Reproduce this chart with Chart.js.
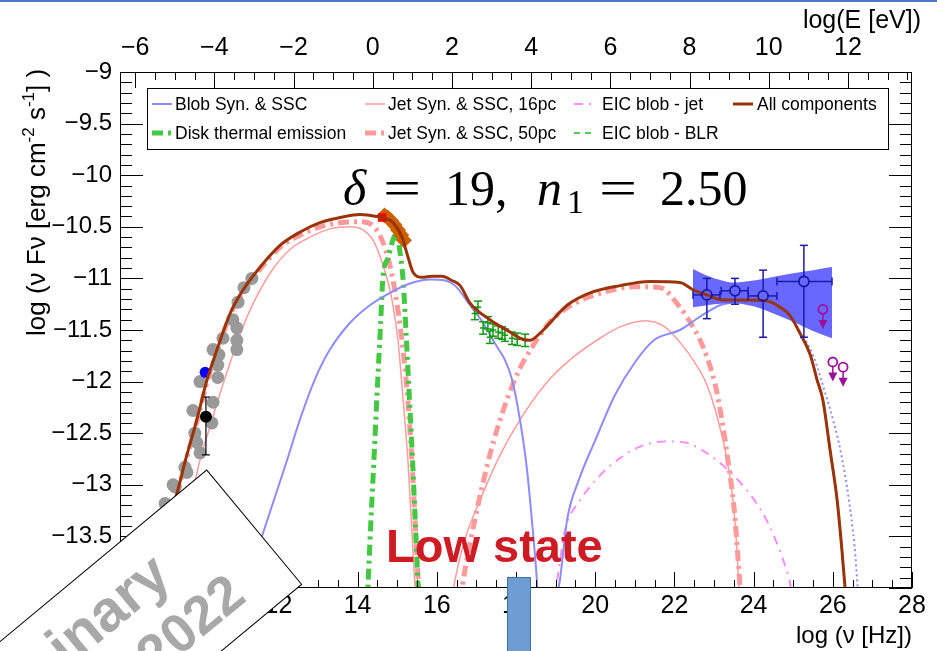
<!DOCTYPE html>
<html><head><meta charset="utf-8">
<script src="https://cdn.jsdelivr.net/npm/chart.js@4.4.1/dist/chart.umd.min.js"></script>
<style>html,body{margin:0;padding:0;background:#fff;overflow:hidden}canvas{display:block}</style>
</head><body>
<canvas id="sed" width="937" height="651"></canvas>
<script>
// ---------- axes / tick labels ----------
const nuRange = [8, 28];
const fluxRange = [-14, -9];
const nuTicks = [8, 10, 12, 14, 16, 18, 20, 22, 24, 26, 28];
const eVTicks = [-6, -4, -2, 0, 2, 4, 6, 8, 10, 12];
const fluxTicks = [-14, -13.5, -13, -12.5, -12, -11.5, -11, -10.5, -10, -9.5, -9];
const LOG_HZ_PER_EV = 14.383;

// ---------- model curves (log nu, log nuFnu) ; null = gap ----------
const allNu = [9.31, 9.44, 9.64, 9.94, 10.20, 10.45, 10.78, 11.11, 11.54, 12.04, 12.55, 13.05, 13.56, 14.06, 14.49, 14.69, 14.87, 15.12, 15.27, 15.40, 15.63, 15.88, 16.13, 16.38, 16.59, 16.84, 17.34, 17.85, 18.10, 18.35, 18.61, 18.86, 19.29, 19.87, 20.63, 21.38, 22.14, 22.47, 22.82, 23.23, 23.83, 24.34, 24.67, 24.92, 25.17, 25.43, 25.60, 25.75, 25.93, 26.11, 26.23, 26.31, 26.34];
const allF  = [-13.22, -13.08, -12.78, -12.37, -11.98, -11.69, -11.34, -11.11, -10.89, -10.68, -10.55, -10.46, -10.41, -10.38, -10.40, -10.42, -10.45, -10.60, -10.79, -10.94, -10.99, -10.98, -10.98, -11.02, -11.07, -11.24, -11.40, -11.52, -11.58, -11.60, -11.53, -11.43, -11.26, -11.14, -11.07, -11.03, -11.04, -11.11, -11.16, -11.21, -11.21, -11.22, -11.28, -11.36, -11.53, -11.74, -11.98, -12.18, -12.66, -13.15, -13.63, -14.00, -14.15];

const blobNu = [11.17, 11.61, 12.22, 12.55, 12.92, 13.30, 13.81, 14.31, 14.82, 15.32, 15.83, 16.21, 16.46, 16.84, 17.17, 17.42, 17.60, 17.72, 17.90, 18.10, 18.28, 18.40, 18.51, 18.56, 18.8, 19.01, 19.11, 19.29, 19.59, 20.00, 20.50, 21.01, 21.48, 22.14, 22.65, 23.15, 23.48, 23.83, 24.34, 24.67, 24.92, 25.17, 25.43, 25.60, 25.75, 25.93, 26.11, 26.23, 26.31, 26.34];
const blobF  = [-14.00, -13.47, -12.76, -12.36, -11.98, -11.69, -11.43, -11.26, -11.14, -11.05, -11.01, -11.02, -11.07, -11.26, -11.43, -11.60, -11.71, -11.79, -11.98, -12.37, -12.86, -13.34, -13.83, -14.12, null, -14.12, -13.92, -13.34, -12.95, -12.57, -12.13, -11.81, -11.60, -11.50, -11.37, -11.26, -11.23, -11.21, -11.22, -11.28, -11.36, -11.53, -11.74, -11.98, -12.18, -12.66, -13.15, -13.63, -14.00, -14.15];

const blobNoAbsNu = [25.17, 25.43, 25.60, 25.80, 26.00, 26.20, 26.40, 26.55, 26.63, 26.66];
const blobNoAbsF  = [-11.53, -11.68, -11.85, -12.10, -12.36, -12.68, -13.13, -13.60, -14.00, -14.15];

const jet16Nu = [9.46, 9.59, 9.84, 10.02, 10.27, 10.53, 10.95, 11.28, 11.79, 12.29, 12.80, 13.30, 13.81, 14.14, 14.39, 14.57, 14.72, 14.87, 15.02, 15.15, 15.27, 15.37, 15.45, 15.48, 16.0, 16.38, 16.46, 16.71, 17.09, 17.60, 18.10, 18.73, 19.36, 20.12, 20.63, 21.26, 21.76, 22.14, 22.47, 22.82, 23.10, 23.33, 23.48, 23.58, 23.63, 23.65];
const jet16F  = [-13.53, -13.34, -13.05, -12.76, -12.44, -12.11, -11.63, -11.31, -10.95, -10.72, -10.60, -10.52, -10.50, -10.53, -10.63, -10.79, -10.97, -11.21, -11.60, -12.18, -12.76, -13.44, -14.00, -14.15, null, -14.12, -13.92, -13.53, -13.15, -12.71, -12.37, -12.03, -11.79, -11.58, -11.47, -11.41, -11.47, -11.62, -11.79, -12.03, -12.37, -12.76, -13.15, -13.63, -14.00, -14.15];

const jet50Nu = [9.44, 9.64, 9.94, 10.20, 10.45, 10.78, 11.11, 11.54, 12.04, 12.55, 13.05, 13.56, 14.06, 14.39, 14.69, 14.87, 15.02, 15.15, 15.27, 15.37, 15.45, 15.53, 15.56, 16.0, 16.59, 16.71, 16.96, 17.34, 17.72, 18.10, 18.40, 18.86, 19.49, 20.25, 21.01, 21.64, 22.14, 22.47, 22.65, 22.82, 23.03, 23.20, 23.35, 23.51, 23.61, 23.66, 23.68];
const jet50F  = [-13.10, -12.80, -12.39, -12.00, -11.71, -11.36, -11.13, -10.91, -10.70, -10.58, -10.50, -10.46, -10.45, -10.49, -10.70, -10.97, -11.31, -11.70, -12.18, -12.76, -13.34, -13.92, -14.15, null, -14.12, -13.83, -13.34, -12.71, -12.23, -11.87, -11.67, -11.42, -11.24, -11.13, -11.08, -11.09, -11.28, -11.47, -11.60, -11.76, -12.03, -12.37, -12.76, -13.24, -13.73, -14.00, -14.15];

const diskNu = [14.24, 14.26, 14.33, 14.42, 14.50, 14.58, 14.64, 14.77, 14.89, 14.97, 15.02, 15.07, 15.12, 15.15, 15.22, 15.30, 15.38, 15.45, 15.52, 15.55];
const diskF  = [-14.15, -14.00, -13.40, -12.70, -12.05, -11.45, -10.99, -10.80, -10.63, -10.57, -10.62, -10.74, -10.89, -11.02, -11.50, -12.10, -12.70, -13.30, -13.92, -14.15];

const eicJetNu = [18.95, 19.06, 19.24, 19.62, 20.12, 20.63, 21.13, 21.76, 22.27, 22.77, 23.28, 23.78, 24.21, 24.54, 24.79, 24.94, 24.98];
const eicJetF  = [-14.15, -13.87, -13.44, -13.15, -12.91, -12.74, -12.63, -12.58, -12.59, -12.68, -12.83, -13.03, -13.26, -13.52, -13.78, -14.00, -14.15];

const eicBlrNu = [];
const eicBlrF  = [];

// ---------- observations ----------
const archNu = [11.33, 11.13, 10.98, 10.85, 10.95, 10.95, 10.95, 10.60, 10.35, 10.50, 10.47, 10.47, 10.02, 10.35, 9.84, 10.32, 9.89, 9.94, 10.02, 9.64, 9.69, 9.39, 9.34, 9.14];
const archF  = [-11.00, -11.09, -11.23, -11.40, -11.48, -11.60, -11.69, -11.58, -11.69, -11.74, -11.84, -11.96, -12.00, -12.20, -12.28, -12.40, -12.50, -12.59, -12.69, -12.83, -12.88, -13.02, -13.00, -13.18];
const radioBlueNu = [10.15], radioBlueF = [-11.91];
const radioBlackNu = [10.17], radioBlackF = [-12.34], radioBlackLo = [-12.71], radioBlackHi = [-12.15];
const redNu = [14.62], redF = [-10.41];
const uvNu = [14.68, 14.76, 14.84, 14.93, 15.02, 15.10, 15.17];
const uvF  = [-10.39, -10.41, -10.44, -10.48, -10.53, -10.58, -10.63];
const xrtNu = [16.96, 17.04, 17.17, 17.29, 17.34, 17.42, 17.55, 17.65, 17.72, 17.90, 18.03, 18.23];
const xrtF  = [-11.34, -11.28, -11.48, -11.43, -11.57, -11.50, -11.52, -11.53, -11.55, -11.58, -11.59, -11.60];
const latNu = [22.82, 23.53, 24.24, 25.27], latF = [-11.16, -11.12, -11.17, -11.03];
const latNuLo = [22.47, 23.18, 23.86, 24.59], latNuHi = [23.15, 23.86, 24.59, 25.98];
const latFLo = [-11.39, -11.25, -11.57, -11.57], latFHi = [-11.00, -11.00, -10.92, -10.68];
const bowUpNu = [22.47, 22.80, 23.20, 23.50, 23.80, 24.30, 25.00, 25.50, 25.98];
const bowUpF  = [-10.91, -10.97, -11.02, -11.04, -11.03, -11.00, -10.95, -10.92, -10.89];
const bowLoNu = [22.47, 23.00, 23.50, 24.00, 24.50, 25.00, 25.50, 25.98];
const bowLoF  = [-11.28, -11.25, -11.24, -11.27, -11.34, -11.42, -11.51, -11.58];
const ulNu = [25.75, 26.00, 26.26], ulF = [-11.30, -11.81, -11.86];

// ---------- helpers ----------
const FONT = "'Liberation Sans', Arial, Helvetica, sans-serif";
const SERIF = "'Liberation Serif', 'Times New Roman', serif";
const xy = (xs, ys, extra) => xs.map((x, i) => Object.assign({x: x, y: ys[i]}, extra ? extra(i) : {}));
const fmtTick = v => (v < -1e-9 ? '\u2212' : '') + (Math.round(Math.abs(v) * 1000) / 1000);

function curve(label, xs, ys, color, width, dash, order, legendIdx) {
  return { type: 'line', label: label, data: xy(xs, ys), borderColor: color, backgroundColor: color,
    borderWidth: width, borderDash: dash || [], pointRadius: 0, pointHoverRadius: 0, tension: 0.3,
    cubicInterpolationMode: 'monotone', fill: false, spanGaps: false, order: order,
    inLegend: legendIdx !== undefined, legendIdx: legendIdx, borderCapStyle: 'butt', xAxisID: 'x', yAxisID: 'y' };
}
function pointsSet(xs, ys, opts, extra) {
  return Object.assign({ type: 'scatter', data: xy(xs, ys, extra), showLine: false, xAxisID: 'x', yAxisID: 'y' }, opts);
}

const datasets = [
  curve('Blob Syn. & SSC', blobNu, blobF, '#8c8cff', 2, [], 9, 0),
  curve('Disk thermal emission', diskNu, diskF, '#44c844', 5, [11, 5, 3, 5], 10, 1),
  curve('Jet Syn. & SSC, 16pc', jet16Nu, jet16F, '#ff9c9c', 1.5, [], 10, 2),
  curve('Jet Syn. & SSC, 50pc', jet50Nu, jet50F, '#ff9a9a', 5, [11, 5, 3, 5], 10, 3),
  curve('EIC blob - jet', eicJetNu, eicJetF, '#ff8cff', 2, [9, 6, 2, 6], 10, 4),
  curve('EIC blob - BLR', eicBlrNu, eicBlrF, '#55cc55', 2, [6, 5], 10, 5),
  curve('All components', allNu, allF, '#9a3408', 3, [], 1, 6),
  curve('Blob SSC (no EBL)', blobNoAbsNu, blobNoAbsF, '#8c8cff', 2, [2, 3], 9),
  Object.assign(curve('bowtie up', bowUpNu, bowUpF, 'rgba(0,0,0,0)', 0, [], 5), { fill: '+1', backgroundColor: 'rgba(88,88,255,0.9)', tension: 0.2 }),
  Object.assign(curve('bowtie low', bowLoNu, bowLoF, 'rgba(0,0,0,0)', 0, [], 5), { tension: 0.2 }),
  pointsSet(archNu, archF, { pointRadius: 6.5, pointBackgroundColor: '#999999', pointBorderWidth: 0, order: 4 }),
  pointsSet(radioBlueNu, radioBlueF, { pointRadius: 5.5, pointBackgroundColor: '#0000ff', pointBorderWidth: 0, order: 3 }),
  pointsSet(radioBlackNu, radioBlackF, { pointRadius: 6, pointBackgroundColor: '#000', pointBorderWidth: 0, borderColor: '#000', order: 3, errBars: true, capSize: 4, errWidth: 1.2 },
    i => ({ yMin: radioBlackLo[i], yMax: radioBlackHi[i] })),
  pointsSet(redNu, redF, { pointStyle: 'rect', pointRadius: 6, pointBackgroundColor: '#ff0000', pointBorderWidth: 0, order: 3 }),
  pointsSet(uvNu, uvF, { pointStyle: 'rectRot', pointRadius: 8, pointBackgroundColor: '#cc6000', pointBorderWidth: 0, order: 3 }),
  pointsSet(xrtNu, xrtF, { pointRadius: 0, borderColor: '#119911', order: 2, errBars: true, capSize: 4, errWidth: 1.5 },
    i => ({ yMin: xrtF[i] - 0.06, yMax: xrtF[i] + 0.06, xMin: xrtNu[i] - 0.08, xMax: xrtNu[i] + 0.08 })),
  pointsSet(latNu, latF, { pointRadius: 5, pointBackgroundColor: 'rgba(0,0,0,0)', pointBorderColor: '#1a1aa8', borderColor: '#1a1aa8', pointBorderWidth: 1.8, order: 0, errBars: true, capSize: 4, errWidth: 1.5 },
    i => ({ yMin: latFLo[i], yMax: latFHi[i], xMin: latNuLo[i], xMax: latNuHi[i] })),
  pointsSet(ulNu, ulF, { pointRadius: 4.5, pointBackgroundColor: 'rgba(0,0,0,0)', pointBorderColor: '#9b0f9b', borderColor: '#9b0f9b', pointBorderWidth: 1.8, order: 0, upperLimit: true, arrowLen: 0.19 })
];

function seg(ctx, x1, y1, x2, y2) { ctx.beginPath(); ctx.moveTo(x1, y1); ctx.lineTo(x2, y2); ctx.stroke(); }

const decor = {
  id: 'decor',
  afterDatasetDraw(chart, args) {
    const ds = chart.data.datasets[args.index];
    if (!ds.errBars && !ds.upperLimit) return;
    const ctx = chart.ctx, X = chart.scales.x, Y = chart.scales.y;
    ctx.save();
    ctx.strokeStyle = ds.borderColor; ctx.fillStyle = ds.borderColor; ctx.lineWidth = ds.errWidth || 1.5;
    const r = ds.pointRadius || 0;
    ds.data.forEach(p => {
      const px = X.getPixelForValue(p.x), py = Y.getPixelForValue(p.y);
      if (ds.errBars) {
        const cap = ds.capSize;
        if (p.yMin !== undefined) {
          const y1 = Y.getPixelForValue(p.yMin), y2 = Y.getPixelForValue(p.yMax);
          seg(ctx, px, y1, px, py + r); seg(ctx, px, py - r, px, y2);
          seg(ctx, px - cap, y1, px + cap, y1); seg(ctx, px - cap, y2, px + cap, y2);
        }
        if (p.xMin !== undefined) {
          const x1 = X.getPixelForValue(p.xMin), x2 = X.getPixelForValue(p.xMax);
          seg(ctx, x1, py, px - r, py); seg(ctx, px + r, py, x2, py);
          if (ds.pointRadius) { seg(ctx, x1, py - cap, x1, py + cap); seg(ctx, x2, py - cap, x2, py + cap); }
        }
      }
      if (ds.upperLimit) {
        const tip = Y.getPixelForValue(p.y - ds.arrowLen);
        seg(ctx, px, py + r, px, tip - 7);
        ctx.beginPath(); ctx.moveTo(px - 4.5, tip - 9); ctx.lineTo(px + 4.5, tip - 9); ctx.lineTo(px, tip); ctx.closePath(); ctx.fill();
      }
    });
    ctx.restore();
  },
  afterDraw(chart) {
    const ctx = chart.ctx, a = chart.chartArea, X = chart.scales.x, Y = chart.scales.y, XT = chart.scales.xTop;
    ctx.save();
    // ----- legend -----
    const items = chart.data.datasets.filter(d => d.inLegend).sort((p, q) => p.legendIdx - q.legendIdx);
    ctx.fillStyle = '#fff'; ctx.fillRect(147, 88, 741, 61);
    ctx.strokeStyle = '#000'; ctx.lineWidth = 1; ctx.strokeRect(147.5, 88.5, 741, 61);
    const colSample = [152, 365, 574, 733], colText = [175, 388, 602, 757], rowY = [104, 133];
    ctx.font = '17.5px ' + FONT; ctx.textBaseline = 'middle'; ctx.textAlign = 'left';
    items.forEach((d, i) => {
      const c = Math.floor(i / 2), r = i % 2, y = rowY[r];
      ctx.save(); ctx.strokeStyle = d.borderColor; ctx.lineWidth = d.borderWidth; ctx.setLineDash(d.borderDash);
      seg(ctx, colSample[c], y, colSample[c] + 20, y); ctx.restore();
      ctx.fillStyle = '#000'; ctx.fillText(d.label, colText[c], y + 1);
    });
    // ----- frame & ticks -----
    ctx.strokeStyle = '#000'; ctx.lineWidth = 1; ctx.setLineDash([]);
    ctx.strokeRect(a.left + 0.5, a.top + 0.5, a.right - a.left - 1, a.bottom - a.top - 1);
    for (let k = 0; k <= 40; k++) {
      const v = nuRange[0] + k * 0.5, px = Math.round(X.getPixelForValue(v)) + 0.5;
      seg(ctx, px, a.bottom, px, a.bottom - (k % 4 === 0 ? 16 : 8));
    }
    for (let k = -13; k <= 27; k++) {
      const v = k * 0.5, px = Math.round(XT.getPixelForValue(v)) + 0.5;
      if (px < a.left || px > a.right) continue;
      seg(ctx, px, a.top, px, a.top + (k % 4 === 0 ? 16 : 8));
    }
    for (let k = 0; k <= 50; k++) {
      const v = fluxRange[0] + k * 0.1, py = Math.round(Y.getPixelForValue(v)) + 0.5;
      const len = (k % 5 === 0) ? 23 : 12;
      seg(ctx, a.left, py, a.left + len, py);
      seg(ctx, a.right, py, a.right - len, py);
    }
    // ----- axis titles -----
    ctx.fillStyle = '#000'; ctx.font = '25px ' + FONT; ctx.textAlign = 'right'; ctx.textBaseline = 'alphabetic';
    ctx.fillText('log(E [eV])', 921, 28);
    ctx.font = '24px ' + FONT;
    ctx.fillText('log (\u03bd [Hz])', 912, 643);
    ctx.save();
    ctx.translate(45, 336); ctx.rotate(-Math.PI / 2); ctx.textAlign = 'left';
    const parts = [['log (\u03bd F\u03bd [erg cm', 0], ['-2', 1], [' s', 0], ['-1', 1], ['] )', 0]];
    let xx = 0;
    parts.forEach(([t, sup]) => {
      ctx.font = (sup ? '17px ' : '26px ') + FONT;
      ctx.fillText(t, xx, sup ? -11 : 0);
      xx += ctx.measureText(t).width;
    });
    ctx.restore();
    // ----- parameter label -----
    const pp = [['\u03b4', 1, 343, 0], ['=', 0, 383, 0], ['19,', 0, 445, 0], ['n', 1, 537, 0], ['1', 0, 567, 1], ['=', 0, 599, 0], ['2.50', 0, 660, 0]];
    ctx.textAlign = 'left';
    pp.forEach(([t, it, x, sub]) => {
      ctx.font = (it ? 'italic ' : '') + (sub ? '34px ' : '50px ') + SERIF;
      if (t === '=') { ctx.save(); ctx.translate(x, 205); ctx.scale(1.35, 1); ctx.fillText(t, 0, 0); ctx.restore(); }
      else ctx.fillText(t, x, sub ? 213 : 205);
    });
    // ----- state label -----
    ctx.fillStyle = '#cf1b24'; ctx.font = 'bold 47px ' + FONT;
    ctx.fillText('Low state', 386, 562);
    // ----- preliminary stamp -----
    ctx.save();
    ctx.translate(206.7, 470); ctx.rotate(-39.7 * Math.PI / 180);
    ctx.fillStyle = '#fff'; ctx.fillRect(-430, 0, 430, 148.6);
    ctx.strokeStyle = '#000'; ctx.lineWidth = 1; ctx.strokeRect(-430, 0, 430, 148.6);
    ctx.fillStyle = '#a8a8a8';
    ctx.font = 'bold 58px ' + FONT;
    ctx.textAlign = 'right'; ctx.fillText('Preliminary', -96, 64);
    ctx.font = 'bold 54px ' + FONT;
    ctx.textAlign = 'center'; ctx.fillText('2022', -111, 126);
    ctx.restore();
    // ----- slide decorations -----
    ctx.fillStyle = '#6e9cd3'; ctx.fillRect(507, 577, 24, 80);
    ctx.strokeStyle = '#41719c'; ctx.lineWidth = 1; ctx.strokeRect(507.5, 577.5, 23, 80);
    ctx.fillStyle = '#4a78c2'; ctx.fillRect(0, 0, 937, 2);
    ctx.restore();
  }
};

const tickFont = { family: FONT, size: 25 };
new Chart(document.getElementById('sed'), {
  type: 'scatter',
  data: { datasets: datasets },
  options: {
    responsive: false, animation: false, devicePixelRatio: 1,
    layout: { padding: { left: 0, right: 25, top: 0, bottom: 0 } },
    plugins: { legend: { display: false }, tooltip: { enabled: false } },
    elements: { line: { borderJoinStyle: 'round' } },
    scales: {
      x: { type: 'linear', position: 'bottom', min: nuRange[0], max: nuRange[1],
        afterFit(s) { s.height = 63; }, afterBuildTicks(s) { s.ticks = nuTicks.map(v => ({ value: v })); },
        grid: { display: false, drawTicks: false }, border: { display: false },
        ticks: { font: tickFont, color: '#000', padding: 3, maxRotation: 0, autoSkip: false, callback: v => fmtTick(v) } },
      xTop: { type: 'linear', position: 'top', min: nuRange[0] - LOG_HZ_PER_EV, max: nuRange[1] - LOG_HZ_PER_EV,
        afterFit(s) { s.height = 72; }, afterBuildTicks(s) { s.ticks = eVTicks.map(v => ({ value: v })); },
        grid: { display: false, drawTicks: false }, border: { display: false },
        ticks: { font: tickFont, color: '#000', padding: 9, maxRotation: 0, autoSkip: false, callback: v => fmtTick(v) } },
      y: { type: 'linear', position: 'left', min: fluxRange[0], max: fluxRange[1],
        afterFit(s) { s.width = 120; }, afterBuildTicks(s) { s.ticks = fluxTicks.map(v => ({ value: v })); },
        grid: { display: false, drawTicks: false }, border: { display: false },
        ticks: { font: { family: FONT, size: 24 }, color: '#000', padding: 8, autoSkip: false, callback: v => fmtTick(v) } }
    }
  },
  plugins: [decor]
});
</script>
</body></html>
